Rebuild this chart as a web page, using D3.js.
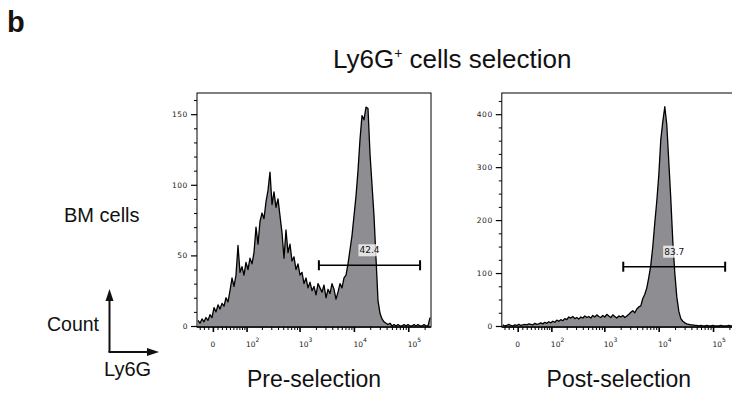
<!DOCTYPE html>
<html lang="en">
<head>
<meta charset="UTF-8" />
<title>Ly6G+ cells selection</title>
<script src="https://d3js.org/d3.v7.min.js"></script>
<style>
  body { margin: 0; background: #fff; }
  svg { display: block; font-family: "Liberation Sans", Arial, sans-serif; }
  .tick-label { font-family: "DejaVu Sans", sans-serif; font-size: 7.5px; fill: #222; }
  .axis path, .axis line { stroke: #000; }
</style>
</head>
<body>
<svg id="chart" width="732" height="396"></svg>
<script>
// histogram counts, one value per display bin (bins evenly spaced across the Ly6G display axis)
const preCounts = [
  4, 2, 5, 3, 6, 4, 8, 6, 13, 10, 15, 12, 16, 14, 20, 17, 25, 34, 28, 36,
  57, 38, 42, 36, 45, 40, 48, 44, 52, 70, 58, 74, 80, 76, 88, 96, 109, 86, 95, 84,
  90, 78, 66, 48, 68, 52, 58, 46, 49, 40, 44, 36, 38, 30, 34, 27, 31, 25, 28, 22,
  30, 27, 24, 29, 20, 26, 23, 30, 26, 19, 24, 30, 27, 34, 36, 44, 54, 64, 78, 92,
  110, 132, 149, 146, 155, 154, 122, 100, 78, 48, 18, 9, 5, 3, 2, 1, 2, 0, 1, 0,
  1, 0, 0, 1, 0, 1, 0, 0, 1, 0, 1, 0, 0, 1, 0, 0, 6
];
const postCounts = [
  2, 0, 1, 3, 1, 0, 2, 1, 3, 1, 2, 3, 2, 4, 3, 2, 5, 3, 4, 6,
  4, 7, 5, 8, 6, 9, 7, 11, 9, 12, 10, 14, 12, 17, 15, 18, 14, 16, 13, 17,
  15, 19, 16, 18, 15, 20, 17, 21, 18, 16, 20, 17, 22, 19, 16, 21, 18, 15, 19, 17,
  20, 16, 19, 22, 26, 29, 25, 32, 36, 38, 52, 60, 72, 92, 115, 150, 195, 236, 285, 352,
  386, 414, 380, 310, 240, 160, 100, 55, 28, 14, 9, 6, 4, 3, 2, 2, 1, 1, 0, 1,
  0, 0, 1, 0, 0, 1, 0, 0, 0, 1, 0, 0, 0, 1, 0, 0, 0
];

const panelNames = ["Pre-selection", "Post-selection"];
const yTicksMajor = [[0, 50, 100, 150], [0, 100, 200, 300, 400]];
const yMinorSteps = [10, 25];
const yMaxima = [165, 440];
const xTickValues = [0, 1e2, 1e3, 1e4, 1e5];
const xTickExponents = ["", "2", "3", "4", "5"];
const gateRanges = [[2270, 165000], [2230, 167000]];
const gateLevels = [43, 112];
const gateLabels = ["42.4", "83.7"];

const svg = d3.select("#chart");

// FlowJo-like biexponential display, approximated with arcsinh
const linW = 51;
const tf = (v) => Math.asinh(v / linW);
const xMin = -37, xMax = 262144;

const panelLefts = [197, 501.8];
const pw = 234;
const plotTop = 93, base = 326, axisY = 327;

// minor x ticks: -30..-10, 10..90, then 2..9 per decade
const xMinor = [-30, -20, -10, 10, 20, 30, 40, 50, 60, 70, 80, 90];
[1e2, 1e3, 1e4, 1e5].forEach((d) => {
  for (let k = 2; k <= 9; k++) if (d * k < xMax) xMinor.push(d * k);
});

function drawPanel(p) {
  const counts = p === 0 ? preCounts : postCounts;
  const g = svg.append("g").attr("transform", `translate(${panelLefts[p]},0)`);

  const xt = d3.scaleLinear().domain([tf(xMin), tf(xMax)]).range([0, pw]);
  const x = (v) => xt(tf(v));
  const bx = d3.scaleLinear().domain([0, counts.length]).range([0, pw]);
  const y = d3.scaleLinear().domain([0, yMaxima[p]]).range([base, plotTop]);

  const clipId = "clip" + p;
  g.append("clipPath").attr("id", clipId)
    .append("rect").attr("x", 0).attr("y", plotTop).attr("width", pw).attr("height", axisY - plotTop);

  const area = d3.area()
    .x((d, i) => bx(i + 0.5))
    .y0(y(0))
    .y1((d) => y(d));
  const line = d3.line()
    .x((d, i) => bx(i + 0.5))
    .y((d) => y(d));

  const plot = g.append("g").attr("clip-path", `url(#${clipId})`);
  plot.append("path").datum(counts).attr("d", area).attr("fill", "#8e8e92");
  plot.append("path").datum(counts).attr("d", line)
    .attr("fill", "none").attr("stroke", "#000").attr("stroke-width", 1.3)
    .attr("stroke-linejoin", "round");

  // frame
  g.append("rect").attr("x", 0).attr("y", plotTop).attr("width", pw).attr("height", axisY - plotTop)
    .attr("fill", "none").attr("stroke", "#000").attr("stroke-width", 1);

  // y axis
  const yMinorVals = d3.range(0, yMaxima[p], yMinorSteps[p]).filter((v) => !yTicksMajor[p].includes(v));
  g.append("g").attr("class", "axis")
    .call(d3.axisLeft(y).tickValues(yMinorVals).tickSize(3).tickFormat(""))
    .call((a) => a.select(".domain").remove());
  const yAx = g.append("g").attr("class", "axis")
    .call(d3.axisLeft(y).tickValues(yTicksMajor[p]).tickSize(6).tickPadding(3))
    .call((a) => a.select(".domain").remove());
  yAx.selectAll("line").attr("stroke-width", 1.2);
  yAx.selectAll("text").attr("class", "tick-label").attr("font-size", null).attr("font-family", null)
    .attr("letter-spacing", 0.6);

  // x axis
  const xAx = g.append("g").attr("class", "axis").attr("transform", `translate(0,${axisY})`);
  xAx.append("g")
    .call(d3.axisBottom(xt).tickValues(xMinor.map(tf)).tickSize(3).tickFormat(""))
    .call((a) => a.select(".domain").remove());
  xAx.append("g")
    .call(d3.axisBottom(xt).tickValues(xTickValues.map(tf)).tickSize(5).tickFormat(""))
    .call((a) => a.select(".domain").remove())
    .selectAll("line").attr("stroke-width", 1.6);
  xAx.append("line").attr("x1", 0).attr("x2", pw).attr("stroke", "#000").attr("stroke-width", 1.6);

  xTickValues.forEach((v, i) => {
    const t = g.append("text").attr("class", "tick-label").attr("y", 347);
    if (i === 0) {
      t.attr("x", x(v)).attr("text-anchor", "middle").text("0");
    } else {
      t.attr("x", x(v) - 0.5).attr("text-anchor", "start").text("10");
      t.append("tspan").attr("dy", -5).attr("font-size", "6px").text(xTickExponents[i]);
    }
  });

  // gate
  const [g0, g1] = gateRanges[p];
  const gy = y(gateLevels[p]);
  const gate = g.append("g").attr("stroke", "#000");
  gate.append("line").attr("x1", x(g0)).attr("x2", x(g1)).attr("y1", gy).attr("y2", gy).attr("stroke-width", 1.6);
  [g0, g1].forEach((v) => {
    gate.append("line").attr("x1", x(v)).attr("x2", x(v)).attr("y1", gy - 5).attr("y2", gy + 5).attr("stroke-width", 2);
  });
  const cx = (x(g0) + x(g1)) / 2;
  const lbl = g.append("g");
  const lt = lbl.append("text").attr("x", cx).attr("y", gy - 12).attr("text-anchor", "middle")
    .attr("font-family", "DejaVu Sans, sans-serif").attr("font-size", "9px").attr("fill", "#111")
    .text(gateLabels[p]);
  const bb = lt.node().getBBox();
  lbl.insert("rect", "text").attr("x", bb.x - 1).attr("y", bb.y - 1)
    .attr("width", bb.width + 2).attr("height", bb.height + 2)
    .attr("fill", "#fff").attr("opacity", 0.75);

  // panel name
  svg.append("text").attr("x", panelLefts[p] + pw / 2).attr("y", 387)
    .attr("text-anchor", "middle").attr("font-size", "23px").attr("fill", "#111")
    .text(panelNames[p]);
}

[0, 1].forEach(drawPanel);

// panel letter and headings
svg.append("text").attr("x", 7).attr("y", 32).attr("font-size", "29px").attr("font-weight", "bold")
  .attr("fill", "#1a1311").text("b");

const title = svg.append("text").attr("x", 333).attr("y", 68).attr("font-size", "26px").attr("fill", "#111");
title.append("tspan").text("Ly6G");
title.append("tspan").attr("font-size", "14px").attr("dy", -10).text("+");
title.append("tspan").attr("dy", 10).text(" cells selection");

svg.append("text").attr("x", 64).attr("y", 222).attr("font-size", "20px").attr("fill", "#111").text("BM cells");
svg.append("text").attr("x", 47).attr("y", 331).attr("font-size", "19.5px").attr("fill", "#111").text("Count");
svg.append("text").attr("x", 104).attr("y", 376).attr("font-size", "20px").attr("fill", "#111").text("Ly6G");

// Count / Ly6G axis arrows
const arrows = svg.append("g").attr("fill", "#111").attr("stroke", "#111");
arrows.append("path").attr("d", "M109.5,352V298").attr("stroke-width", 2).attr("fill", "none");
arrows.append("path").attr("d", "M108.5,352H150").attr("stroke-width", 2).attr("fill", "none");
arrows.append("path").attr("d", "M109.5,289L113.5,301L105.5,301Z").attr("stroke", "none");
arrows.append("path").attr("d", "M159,352L147,348L147,356Z").attr("stroke", "none");
</script>
</body>
</html>
